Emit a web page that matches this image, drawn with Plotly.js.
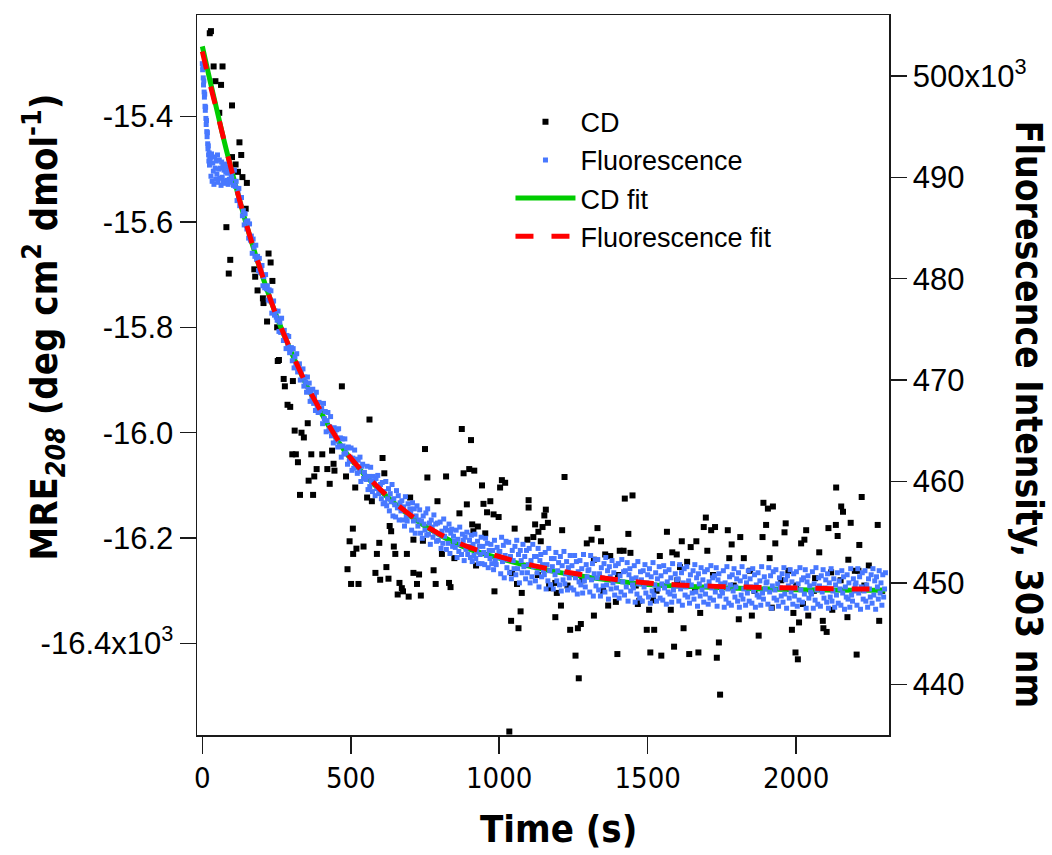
<!DOCTYPE html>
<html>
<head>
<meta charset="utf-8">
<script src="https://cdn.plot.ly/plotly-3.0.1.min.js"></script>
<style>html,body{margin:0;padding:0;background:#fff;}#chart{width:1052px;height:855px;}</style>
</head>
<body>
<div id="chart"></div>
<script>
// ---------- data ----------
const timeTickVals = [0, 500, 1000, 1500, 2000];
const timeTickText = ['0', '500', '1000', '1500', '2000'];
const mreTickVals = [-15.4, -15.6, -15.8, -16.0, -16.2, -16.4];
const mreTickText = ['-15.4', '-15.6', '-15.8', '-16.0', '-16.2', '-16.4x10<sup>3</sup>'];
const flTickVals = [440, 450, 460, 470, 480, 490, 500];
const flTickText = ['440', '450', '460', '470', '480', '490', '500x10<sup>3</sup>'];

// CD (MRE208, x10^3)
const cdTime = [29,25,38,68,44,63,100,57,125,100,131,112,120,135,150,81,146,94,89,223,230,175,178,236,186,204,
206,218,252,258,254,274,278,305,470,287,296,355,311,334,342,303,315,367,404,322,437,442,421,445,385,377,358,429,484,515,329,373,
563,607,613,555,571,750,874,905,821,758,880,899,916,942,1009,1020,1003,1099,1099,700,792,891,947,970,866,959,981,998,909,928,913,953,1052,1095,
507,631,636,496,543,519,508,596,645,588,650,689,711,743,807,849,922,779,489,620,583,711,730,1043,599,627,664,501,526,723,786,831,836,1060,
672,676,658,695,736,984,1076,
1220,1157,1152,1121,1146,1164,1132,1115,1140,1212,1331,1423,1449,1435,1295,1311,1343,1565,1615,1645,1664,1696,1689,1714,1727,1770,1783,1812,
1890,1905,1922,1899,1965,1961,1887,1930,2034,2028,2017,2109,2134,2135,2152,2158,2221,2184,2140,2213,2275,2078,2176,2245,2198,2210,2118,2064,
1974,1911,1845,1775,1824,1701,1633,1541,1583,1598,1609,1406,1419,1442,1357,1374,1319,1174,1168,1189,1194,1072,1040,1065,1189,1208,1239,1265,
1275,1319,1257,1268,1367,1393,1398,1467,1472,1497,1522,1505,1518,1509,1546,1578,1589,1621,1640,1671,1677,1733,1740,1744,1807,1851,1874,1918,
1986,1991,1998,2006,2010,2041,2023,2090,2092,2103,2122,2173,2204,2280,1034,
1130,1230,1280,1350,1400,1460,1530,1600,1660,1720,1790,1860,1950,2000,2060,2150,2230,2290];
const cdMRE = [-15.238,-15.242,-15.305,-15.305,-15.333,-15.340,-15.379,-15.393,-15.449,-15.477,-15.473,-15.491,-15.505,-15.515,-15.526,-15.610,-15.575,-15.672,-15.698,-15.660,-15.677,-15.690,-15.704,-15.712,-15.730,-15.745,
-15.754,-15.789,-15.800,-15.862,-15.864,-15.898,-15.912,-15.902,-15.912,-15.947,-15.951,-15.982,-15.996,-16.000,-16.009,-16.041,-16.041,-16.041,-16.041,-16.056,-16.034,-16.059,-16.069,-16.072,-16.069,-16.083,-16.091,-16.097,-16.083,-16.104,-16.118,-16.118,
-15.975,-16.048,-16.077,-16.123,-16.130,-16.031,-15.993,-16.014,-16.083,-16.085,-16.077,-16.069,-16.072,-16.100,-16.090,-16.095,-16.104,-16.128,-16.142,-16.123,-16.130,-16.136,-16.135,-16.130,-16.153,-16.151,-16.155,-16.160,-16.174,-16.178,-16.187,-16.191,-16.182,-16.203,
-16.182,-16.177,-16.187,-16.206,-16.216,-16.220,-16.230,-16.209,-16.216,-16.230,-16.230,-16.230,-16.203,-16.205,-16.230,-16.238,-16.252,-16.261,-16.259,-16.255,-16.266,-16.266,-16.269,-16.266,-16.279,-16.277,-16.285,-16.287,-16.287,-16.287,-16.287,-16.285,-16.293,-16.287,
-16.295,-16.301,-16.307,-16.311,-16.309,-16.301,-16.304,
-16.084,-16.146,-16.157,-16.174,-16.179,-16.171,-16.188,-16.198,-16.206,-16.185,-16.181,-16.125,-16.119,-16.192,-16.210,-16.203,-16.206,-16.188,-16.206,-16.217,-16.206,-16.161,-16.179,-16.185,-16.179,-16.185,-16.212,-16.198,
-16.133,-16.144,-16.140,-16.175,-16.172,-16.189,-16.198,-16.210,-16.185,-16.203,-16.210,-16.181,-16.175,-16.104,-16.140,-16.150,-16.122,-16.171,-16.196,-16.213,-16.175,-16.227,-16.241,-16.252,-16.262,-16.262,-16.265,-16.276,
-16.262,-16.238,-16.262,-16.238,-16.238,-16.224,-16.245,-16.234,-16.227,-16.231,-16.255,-16.224,-16.224,-16.228,-16.231,-16.234,-16.241,-16.295,-16.290,-16.285,-16.304,-16.339,-16.357,-16.371,-16.350,-16.328,-16.374,-16.371,
-16.363,-16.347,-16.423,-16.466,-16.328,-16.321,-16.420,-16.325,-16.319,-16.374,-16.374,-16.336,-16.318,-16.417,-16.423,-16.336,-16.406,-16.371,-16.420,-16.417,-16.342,-16.427,-16.398,-16.497,-16.354,-16.347,-16.385,-16.332,
-16.374,-16.342,-16.417,-16.430,-16.360,-16.347,-16.325,-16.357,-16.371,-16.378,-16.336,-16.350,-16.421,-16.357,-16.567,
-16.27,-16.29,-16.28,-16.30,-16.27,-16.29,-16.30,-16.28,-16.30,-16.27,-16.29,-16.30,-16.28,-16.29,-16.30,-16.28,-16.29,-16.30];

// Fluorescence intensity (x10^3), first seconds listed point by point
const flEarlyTime = [0,1,2,3,4,5,6,7,8,9,10,11,12,13,14,15,16,17,18,19,20,21,22,23,24,25,
27,29,31,33,35,37,39,41,43,45,47,49,51,53,55,57,59,61,63,65,67,69,71,73,75,77,79,81,83,85,87,89,91,93,95,97,99];
const flEarlyVal = [501.2,500.6,500.9,499.8,499.1,499.5,498.4,497.9,498.2,497.0,496.6,496.9,495.8,495.2,495.6,494.5,494.0,494.4,493.3,492.8,493.1,492.2,491.6,492.4,491.2,491.8,
491.9,490.1,492.3,489.6,491.4,490.6,489.3,492.0,490.9,489.8,491.6,490.3,492.2,489.5,490.8,491.7,489.9,490.9,489.2,491.5,490.0,491.1,489.6,490.7,491.3,489.4,490.5,491.0,489.7,490.4,489.3,490.6,489.8,490.9,489.5,490.2,489.9];
// rest of the record: one reading every 3 s starting at 102 s
const flStart = 102, flStep = 3;
const flVal = [
490.6,489.2,490.7,489.1,489.6,487.7,488.5,488.9,487.2,487.3,
488.0,486.2,486.7,485.3,486.4,485.6,484.9,485.7,484.0,485.4,
483.8,484.2,482.5,483.9,483.1,482.2,483.3,481.9,482.2,480.8,
482.0,480.6,480.8,481.3,479.3,480.2,479.1,480.4,479.0,479.3,
477.9,478.9,477.8,478.8,476.6,477.7,477.8,476.4,476.8,476.2,
475.9,476.8,474.8,475.7,474.7,476.1,474.8,473.9,474.9,474.3,
473.1,474.4,473.4,474.3,472.7,473.0,473.2,471.9,473.1,471.2,
472.3,471.4,472.6,470.8,471.1,471.6,470.0,470.9,470.2,471.1,
469.4,470.3,469.8,468.8,470.3,469.1,469.7,467.9,468.8,468.2,
469.1,467.7,468.4,467.0,468.8,467.3,466.8,467.8,467.0,467.2,
467.2,465.7,467.7,466.2,466.9,464.9,466.0,466.8,465.0,465.4,
466.4,464.5,465.2,463.8,465.3,464.6,464.0,465.1,463.4,465.2,
463.5,464.3,462.4,464.2,463.5,462.7,464.2,462.8,463.3,461.7,
463.4,462.0,462.4,463.3,461.1,462.3,461.3,463.1,461.7,462.2,
460.8,462.1,461.0,462.4,460.0,461.5,461.7,460.3,460.9,460.5,
460.2,461.5,459.2,460.5,459.5,461.4,460.0,459.0,460.5,459.9,
458.6,460.3,459.3,460.6,458.8,459.3,459.7,458.3,459.9,457.8,
459.0,457.9,460.0,457.6,458.3,459.3,457.1,458.8,458.0,459.7,
456.6,458.3,457.7,456.5,459.1,457.4,458.6,456.2,457.9,457.1,
458.1,456.2,457.5,455.6,458.5,456.5,456.1,457.8,456.8,457.3,
456.9,455.2,457.9,456.1,457.3,454.9,456.6,457.6,455.6,456.2,
457.2,454.9,456.1,454.4,456.6,455.8,455.2,456.9,454.7,457.3,
454.8,455.9,453.8,456.2,455.5,454.5,456.7,455.0,455.8,454.1,
455.9,454.2,454.8,456.0,453.4,455.1,453.9,456.3,454.6,455.4,
453.3,455.2,453.9,455.8,452.9,454.9,455.3,453.6,454.6,454.1,
453.5,455.2,452.5,454.3,453.1,455.5,453.8,452.8,454.8,454.2,
452.2,454.5,453.3,455.0,452.8,453.6,454.2,452.5,454.7,452.1,
453.8,452.7,454.8,452.4,453.1,454.1,451.9,453.6,452.8,454.5,
451.9,453.6,453.0,451.8,454.4,452.7,453.9,451.5,453.2,452.4,
453.8,451.9,453.2,451.3,454.2,452.2,451.8,453.5,452.5,453.0,
453.1,450.9,454.5,452.1,453.7,450.5,452.7,454.1,451.5,452.3,
454.0,451.0,452.6,450.4,453.2,452.2,451.4,453.6,450.8,454.2,
451.4,452.8,450.0,453.2,452.2,451.0,453.8,451.6,452.6,450.4,
453.2,451.0,451.8,453.4,450.0,452.2,450.6,453.8,451.6,452.6,
450.2,452.6,451.0,453.4,449.6,452.2,452.8,450.6,451.8,451.2,
450.8,453.0,449.4,451.8,450.2,453.4,451.2,449.8,452.4,451.6,
449.4,452.4,450.8,453.0,450.2,451.2,452.0,449.8,452.6,449.2,
451.7,450.3,453.1,449.9,450.9,452.1,449.3,451.5,450.5,452.7,
449.5,451.7,450.9,449.3,452.7,450.5,452.1,448.9,451.1,450.1,
452.2,449.8,451.4,449.0,452.8,450.2,449.6,451.8,450.6,451.2,
451.3,449.1,452.7,450.3,451.9,448.7,450.9,452.3,449.7,450.5,
452.3,449.3,450.9,448.7,451.5,450.5,449.7,451.9,449.1,452.5,
449.8,451.2,448.4,451.6,450.6,449.4,452.2,450.0,451.0,448.8,
451.7,449.5,450.3,451.9,448.5,450.7,449.1,452.3,450.1,451.1,
448.8,451.2,449.6,452.0,448.2,450.8,451.4,449.2,450.4,449.8,
449.5,451.7,448.1,450.5,448.9,452.1,449.9,448.5,451.1,450.3,
448.2,451.2,449.6,451.8,449.0,450.0,450.8,448.6,451.4,448.0,
450.6,449.2,452.0,448.8,449.8,451.0,448.2,450.4,449.4,451.6,
448.5,450.7,449.9,448.3,451.7,449.5,451.1,447.9,450.1,449.1,
451.3,448.9,450.5,448.1,451.9,449.3,448.7,450.9,449.7,450.3,
450.4,448.2,451.8,449.4,451.0,447.8,450.0,451.4,448.8,449.6,
451.6,448.6,450.2,448.0,450.8,449.8,449.0,451.2,448.4,451.8,
449.1,450.5,447.7,450.9,449.9,448.7,451.5,449.3,450.3,448.1,
451.1,448.9,449.7,451.3,447.9,450.1,448.5,451.7,449.5,450.5,
448.3,450.7,449.1,451.5,447.7,450.3,450.9,448.7,449.9,449.3,
449.0,451.2,447.6,450.0,448.4,451.6,449.4,448.0,450.6,449.8,
447.8,450.8,449.2,451.4,448.6,449.6,450.4,448.2,451.0,447.6,
450.2,448.8,451.6,448.4,449.4,450.6,447.8,450.0,449.0,451.2,
448.2,450.4,449.6,448.0,451.4,449.2,450.8,447.6,449.8,448.8,
451.0,448.6,450.2,447.8,451.6,449.0,448.4,450.6,449.4,450.0,
450.1,447.9,451.5,449.1,450.7,447.5,449.7,451.1,448.5,449.3,
451.3,448.3,449.9,447.7,450.5,449.5,448.7,450.9,448.1,451.5,
448.9,450.3,447.5,450.7,449.7,448.5,451.3,449.1,450.1,447.9,
450.9,448.7,449.5,451.1,447.7,449.9,448.3,451.5,449.3,450.3,
448.1,450.5,448.9,451.3,447.5,450.1,450.7,448.5,449.7,449.1,
448.9,451.1,447.5,449.9,448.3,451.5,449.3,447.9,450.5,449.7,
447.7,450.7,449.1,451.3,448.5,449.5,450.3,448.1,450.9,447.5,
450.0,448.6,451.4,448.2,449.2,450.4,447.6,449.8,448.8,451.0,
448.0,450.2,449.4,447.8,451.2,449.0,450.6,447.4,449.6,448.6,
450.8,448.4,450.0,447.6,451.4,448.8,448.2,450.4,449.2,449.8,
450.0,447.8,451.4,449.0,450.6,447.4,449.6,451.0,448.4,449.2,
451.2,448.2,449.8,447.6,450.4,449.4,448.6,450.8,448.0,451.4,
448.8,450.2,447.4,450.6,449.6,448.4,451.2,449.0,450.0,447.8,
450.8,448.6,449.4,451.0];

// Fitted curves
const fitTime = [0,25,50,75,100,150,200,250,300,350,400,450,500,600,700,800,900,1000,1100,1200,1300,1400,1500,1600,1800,2000,2200,2300];
const cdFitVal = [-15.267,-15.330,-15.390,-15.450,-15.505,-15.608,-15.699,-15.779,-15.848,-15.909,-15.962,-16.010,-16.050,-16.110,-16.158,-16.194,-16.221,-16.238,-16.253,-16.265,-16.274,-16.282,-16.288,-16.291,-16.295,-16.298,-16.299,-16.299];
const flFitVal = [502.4,499.3,496.4,493.4,490.5,485.2,480.5,476.3,472.8,469.6,466.9,464.4,462.3,459.2,456.7,454.8,453.5,452.6,451.8,451.2,450.7,450.3,450.0,449.8,449.6,449.5,449.4,449.4];

// ---------- build ----------
const flTime = flEarlyTime.slice();
const flAll = flEarlyVal.slice();
flVal.forEach((v, i) => { flTime.push(flStart + i * flStep); flAll.push(v); });

const SANS = '"Liberation Sans", Arial, sans-serif';
const NARROW = '"Liberation Sans Narrow", "Arial Narrow", "DejaVu Sans Condensed", "Liberation Sans", sans-serif';
const AX = '#1a1a1a';

const traces = [
  {x: cdTime, y: cdMRE, name: 'CD', type: 'scatter', mode: 'markers', yaxis: 'y',
   marker: {symbol: 'square', size: 6, color: '#000'}},
  {x: flTime, y: flAll, name: 'Fluorescence', type: 'scatter', mode: 'markers', yaxis: 'y2',
   marker: {symbol: 'square', size: 5, color: 'rgb(72,120,255)'}},
  {x: fitTime, y: cdFitVal, name: 'CD fit', type: 'scatter', mode: 'lines', yaxis: 'y',
   line: {color: '#00cc00', width: 5, shape: 'spline', smoothing: 1}},
  {x: fitTime, y: flFitVal, name: 'Fluorescence fit', type: 'scatter', mode: 'lines', yaxis: 'y2',
   line: {color: '#ff0000', width: 5, dash: '18px,18px', shape: 'spline', smoothing: 1}}
];

const layout = {
  width: 1052, height: 855,
  margin: {l: 197, r: 163, t: 15, b: 120, pad: 0},
  paper_bgcolor: '#fff', plot_bgcolor: '#fff',
  showlegend: true,
  legend: {x: 0.453, y: 0.885, xanchor: 'left', yanchor: 'top', bgcolor: 'rgba(0,0,0,0)',
           font: {family: SANS, size: 27, color: '#000'}, itemwidth: 60, tracegroupgap: 0},
  xaxis: {range: [-18, 2313], tickvals: timeTickVals, ticktext: timeTickText,
          ticks: 'outside', ticklen: 17, tickwidth: 1.5, tickcolor: AX,
          showline: true, linecolor: AX, linewidth: 1.5, mirror: true,
          showgrid: false, zeroline: false, automargin: false,
          tickfont: {family: NARROW, size: 29, color: '#000'}},
  yaxis: {range: [-16.5736, -15.2074], tickvals: mreTickVals, ticktext: mreTickText,
          ticks: 'outside', ticklen: 16, tickwidth: 1.5, tickcolor: AX,
          showline: true, linecolor: AX, linewidth: 1.5,
          showgrid: false, zeroline: false, automargin: false,
          tickfont: {family: SANS, size: 31, color: '#000'}},
  yaxis2: {range: [435.0, 506.0], tickvals: flTickVals, ticktext: flTickText,
           overlaying: 'y', side: 'right',
           ticks: 'outside', ticklen: 16, tickwidth: 1.5, tickcolor: AX,
           showline: true, linecolor: AX, linewidth: 1.5,
           showgrid: false, zeroline: false, automargin: false,
           tickfont: {family: SANS, size: 31, color: '#000'}},
  annotations: [
    {text: '<b>Time (s)</b>', xref: 'paper', yref: 'paper', x: 0.523, y: -0.1306,
     xanchor: 'center', yanchor: 'middle', showarrow: false,
     font: {family: NARROW, size: 38, color: '#000'}},
    {text: '<b>MRE<sub><i>208</i></sub> (deg cm<sup>2</sup> dmol<sup>-1</sup>)</b>', xref: 'paper', yref: 'paper',
     x: -0.222, y: 0.566, xanchor: 'center', yanchor: 'middle', textangle: -90, showarrow: false,
     font: {family: NARROW, size: 38, color: '#000'}},
    {text: '<b>Fluorescence Intensity, 303 nm</b>', xref: 'paper', yref: 'paper',
     x: 1.202, y: 0.445, xanchor: 'center', yanchor: 'middle', textangle: 90, showarrow: false,
     font: {family: NARROW, size: 37, color: '#000'}}
  ]
};

Plotly.newPlot('chart', traces, layout, {staticPlot: true, displayModeBar: false});
</script>
</body>
</html>
